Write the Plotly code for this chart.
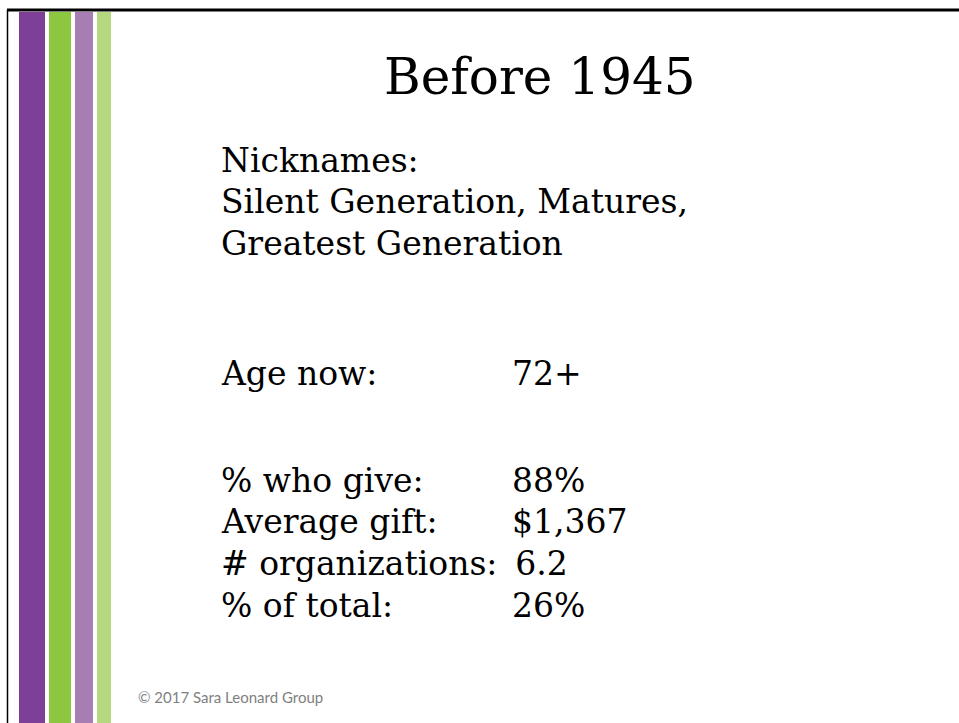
import plotly.graph_objects as go

W, H = 959, 723

title = "Before 1945"
nickname_lines = ["Nicknames:", "Silent Generation, Matures,", "Greatest Generation"]
age_label = "Age now:"
age_value = "72+"
stat_labels = ["% who give:", "Average gift:", "# organizations:", "% of total:"]
stat_values = ["88%", "$1,367", " 6.2", "26%"]
footer = "© 2017 Sara Leonard Group"

stripe_colors = ["#7E3F98", "#8DC63F", "#A77EB3", "#B5D77E"]
stripe_x = [(19, 45), (49, 71), (75, 93), (97, 111)]

FONT = "DejaVu Serif"
fig = go.Figure()
fig.add_trace(go.Scatter(x=[0], y=[0], mode="markers", marker=dict(opacity=0), hoverinfo="skip", showlegend=False))

shapes = []
for (x0, x1), c in zip(stripe_x, stripe_colors):
    shapes.append(dict(type="rect", xref="x", yref="y", x0=x0, x1=x1, y0=12, y1=H, fillcolor=c, line=dict(width=0), layer="below"))
shapes.append(dict(type="line", xref="x", yref="y", x0=7, x1=W, y0=10, y1=10, line=dict(color="black", width=3)))
shapes.append(dict(type="line", xref="x", yref="y", x0=7.5, x1=7.5, y0=10, y1=H, line=dict(color="black", width=1.5)))

ann = []
ann.append(dict(x=540, y=77, text=title, xanchor="center", yanchor="middle", font=dict(family=FONT, size=50, color="black")))
LX, VX = 219, 510
fs = 33
for i, t in enumerate(nickname_lines):
    ann.append(dict(x=LX, y=160 + i * 41.5, text=t, xanchor="left", yanchor="middle", font=dict(family=FONT, size=fs, color="black")))
ann.append(dict(x=LX, y=373, text=age_label, xanchor="left", yanchor="middle", font=dict(family=FONT, size=fs, color="black")))
ann.append(dict(x=VX, y=373, text=age_value, xanchor="left", yanchor="middle", font=dict(family=FONT, size=fs, color="black")))
for i, (l, v) in enumerate(zip(stat_labels, stat_values)):
    y = 480 + i * 41.7
    ann.append(dict(x=LX, y=y, text=l, xanchor="left", yanchor="middle", font=dict(family=FONT, size=fs, color="black")))
    ann.append(dict(x=VX, y=y, text=v.replace(" ", "&#8202;"), xanchor="left", yanchor="middle", font=dict(family=FONT, size=fs, color="black")))
ann.append(dict(x=136, y=697, text=footer, xanchor="left", yanchor="middle", font=dict(family="Lato", size=15, color="#7F7F7F")))
for a in ann:
    a.update(xref="x", yref="y", showarrow=False)

fig.update_layout(
    width=W, height=H, margin=dict(l=0, r=0, t=0, b=0),
    paper_bgcolor="white", plot_bgcolor="white",
    xaxis=dict(range=[0, W], visible=False, fixedrange=True),
    yaxis=dict(range=[H, 0], visible=False, fixedrange=True),
    shapes=shapes, annotations=ann, showlegend=False,
)
fig.write_html("out.html", config={"displayModeBar": False},
               post_script="document.body.style.margin='0';document.body.style.overflow='hidden';")
